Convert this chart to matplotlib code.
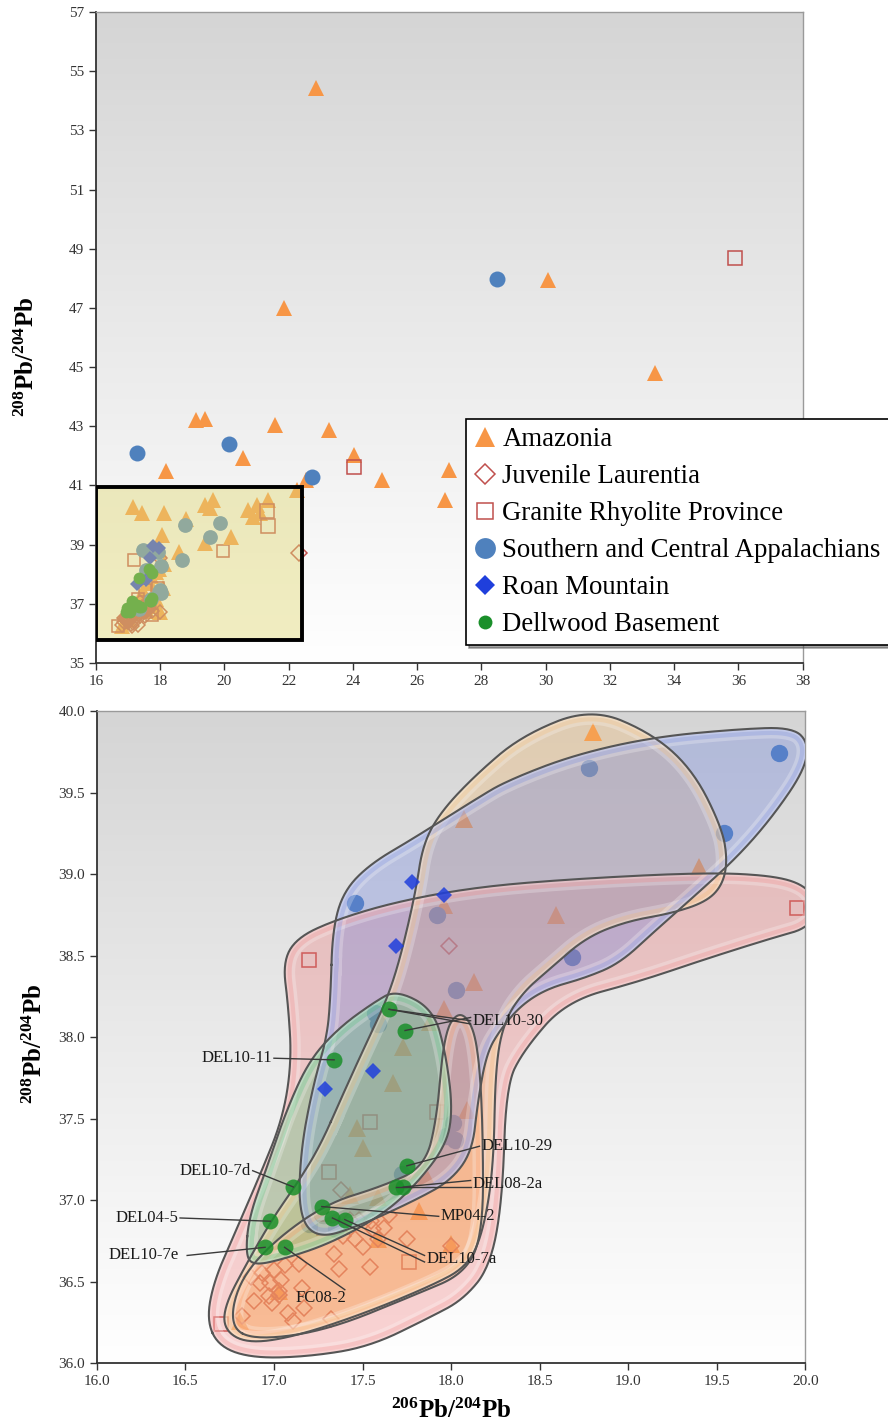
"""Pb isotope plot: full range (top) and close-up with sample fields (bottom)."""
import numpy as np
import matplotlib
matplotlib.use('Agg')
from matplotlib import pyplot as plt
from matplotlib.colors import LinearSegmentedColormap
from matplotlib.lines import Line2D
from matplotlib.patches import Polygon, Rectangle

plt.rcParams['font.family'] = ['Liberation Serif', 'DejaVu Serif']
plt.rcParams['mathtext.fontset'] = 'custom'
plt.rcParams['mathtext.rm'] = 'Liberation Serif:bold'

# --- sample data (206Pb/204Pb, 208Pb/204Pb) ---------------------------------
amaz_x = [18.80, 18.07, 19.40, 18.59, 17.96, 18.13, 17.96, 17.88, 17.73, 17.67,
          18.09, 17.47, 17.50, 17.86, 17.43, 17.59, 17.82, 18.00, 17.59, 17.03,
          16.81]
amaz_y = [39.87, 39.34, 39.04, 38.75, 38.81, 38.34, 38.17, 38.09, 37.94, 37.72,
          37.55, 37.44, 37.32, 37.15, 37.03, 37.02, 36.93, 36.73, 36.76, 36.44,
          36.26]
# Amazonia points outside the close-up window
amaz_top_x = [17.16, 17.42, 18.12, 19.39, 19.65, 19.55, 20.22, 20.74, 21.00,
              21.36, 20.90, 21.10, 22.25, 22.54, 22.85, 21.85, 30.07, 33.40,
              19.13, 19.39, 21.57, 23.25, 20.58, 18.18, 24.03, 24.92, 27.00,
              26.85]
amaz_top_y = [40.28, 40.06, 40.06, 40.34, 40.50, 40.23, 39.27, 40.17, 40.34,
              40.50, 39.94, 40.06, 40.85, 41.18, 54.43, 47.00, 47.94, 44.80,
              43.20, 43.25, 43.04, 42.87, 41.93, 41.50, 42.03, 41.18, 41.52,
              40.50]

jl_x = [17.99, 17.38, 17.43, 17.48, 17.55, 17.65, 17.39, 17.46, 17.50, 17.56,
        17.62, 17.75, 18.00, 17.37, 17.54, 17.34, 16.87, 16.93, 17.00, 17.06,
        17.14, 16.92, 16.98, 17.04, 17.16, 16.89, 16.97, 17.03, 16.99, 17.08,
        17.11, 17.17, 17.32, 16.82, 17.59, 17.03]
jl_y = [38.56, 37.06, 36.88, 36.88, 36.87, 36.91, 36.78, 36.76, 36.71, 36.82,
        36.83, 36.76, 36.72, 36.58, 36.59, 36.67, 36.53, 36.55, 36.57, 36.60,
        36.61, 36.49, 36.49, 36.51, 36.46, 36.38, 36.41, 36.42, 36.37, 36.31,
        36.26, 36.34, 36.27, 36.29, 36.76, 36.44]
jl_top_x = [22.33]
jl_top_y = [38.73]

grp_x = [17.20, 19.95, 17.92, 17.54, 17.31, 17.28, 17.76, 16.70]
grp_y = [38.47, 38.79, 37.54, 37.48, 37.17, 36.83, 36.62, 36.24]
grp_top_x = [35.90, 24.04, 21.31, 21.36]
grp_top_y = [48.67, 41.63, 40.12, 39.64]

sca_x = [17.46, 17.92, 18.03, 18.78, 19.85, 19.54, 18.68, 17.57, 17.59, 18.01,
         17.97, 18.02, 17.72, 17.20, 17.35]
sca_y = [38.82, 38.75, 38.29, 39.65, 39.74, 39.25, 38.49, 38.15, 38.08, 37.47,
         37.39, 37.37, 37.16, 36.85, 36.82]
sca_top_x = [17.29, 20.14, 22.73, 28.49]
sca_top_y = [42.08, 42.40, 41.29, 47.97]

roan_x = [17.78, 17.96, 17.69, 17.56, 17.29]
roan_y = [38.95, 38.87, 38.56, 37.79, 37.68]

dell_x = [17.65, 17.74, 17.34, 17.11, 16.98, 16.95, 17.06, 17.27, 17.33, 17.40,
          17.75, 17.69, 17.73]
dell_y = [38.17, 38.04, 37.86, 37.08, 36.87, 36.71, 36.71, 36.96, 36.89, 36.88,
          37.21, 37.08, 37.08]

# --- field outlines (close-up) ----------------------------------------------
grp_field_x = [16.62, 16.69, 16.88, 17.20, 17.54, 17.88, 18.07, 18.22, 18.29,
               18.31, 18.41, 18.65, 19.06, 19.44, 19.82, 20.02, 20.07, 20.00,
               19.82, 19.44, 18.69, 18.14, 17.69, 17.35, 17.13, 17.05, 17.08,
               17.10, 17.05, 16.92, 16.78, 16.66]
grp_field_y = [36.26, 36.10, 36.03, 36.04, 36.10, 36.28, 36.39, 36.59, 37.00,
               37.70, 37.92, 38.22, 38.34, 38.48, 38.61, 38.67, 38.81, 38.93,
               38.99, 39.01, 38.97, 38.92, 38.83, 38.72, 38.61, 38.46, 38.20,
               37.85, 37.50, 37.15, 36.80, 36.50]

jl_field_x = [16.75, 16.90, 17.30, 17.80, 18.08, 18.18, 18.18, 18.16, 18.12,
              18.04, 17.96, 17.92, 17.85, 17.60, 17.30, 17.00, 16.80]
jl_field_y = [36.22, 36.14, 36.20, 36.42, 36.55, 36.80, 37.40, 37.85, 38.08,
              38.16, 38.02, 37.50, 37.20, 37.08, 36.98, 36.75, 36.50]

amaz_field_x = [17.26, 17.39, 17.52, 17.63, 17.71, 17.80, 17.84, 17.94, 18.14,
                18.40, 18.79, 19.14, 19.37, 19.53, 19.56, 19.53, 19.44, 19.25,
                18.99, 18.76, 18.56, 18.41, 18.30, 18.25, 18.24, 18.18, 18.09,
                17.88, 17.50, 17.11, 16.85, 16.72, 16.72, 16.85, 17.00, 17.13]
amaz_field_y = [37.33, 37.65, 37.96, 38.21, 38.47, 38.89, 39.18, 39.38, 39.61,
                39.85, 40.02, 39.86, 39.63, 39.28, 39.08, 38.93, 38.83, 38.76,
                38.71, 38.61, 38.42, 38.28, 38.10, 37.82, 37.20, 36.80, 36.59,
                36.47, 36.30, 36.16, 36.12, 36.20, 36.35, 36.62, 36.90, 37.10]

sca_field_x = [17.32, 17.33, 17.39, 17.54, 17.79, 18.14, 18.31, 18.69, 19.14,
               19.63, 19.93, 20.02, 19.99, 19.82, 19.63, 19.40, 19.15, 18.95,
               18.75, 18.55, 18.40, 18.28, 18.20, 18.15, 18.12, 18.00, 17.80,
               17.50, 17.25, 17.14, 17.15, 17.22, 17.30]
sca_field_y = [38.26, 38.65, 38.89, 39.06, 39.22, 39.46, 39.57, 39.73, 39.84,
               39.89, 39.90, 39.80, 39.63, 39.36, 39.12, 38.89, 38.65, 38.45,
               38.36, 38.30, 38.20, 38.05, 37.90, 37.60, 37.30, 37.12, 37.00,
               36.85, 36.76, 36.90, 37.30, 37.70, 38.00]

dell_field_x = [16.84, 16.86, 16.96, 17.07, 17.20, 17.37, 17.56, 17.69, 17.90,
                17.97, 18.01, 17.97, 17.79, 17.60, 17.31, 17.03, 16.88]
dell_field_y = [36.67, 36.90, 37.20, 37.55, 37.86, 38.06, 38.21, 38.29, 38.17,
                37.90, 37.55, 37.33, 37.08, 36.90, 36.73, 36.63, 36.60]

# --- sample labels (Dellwood points) ----------------------------------------
label_names = ['DEL10-30', 'DEL10-11', 'DEL10-7d', 'DEL04-5', 'DEL10-7e',
               'DEL10-29', 'DEL08-2a', 'MP04-2', 'DEL10-7a', 'FC08-2']
label_points = [[0, 0, 1], [2], [3], [4], [5], [10], [11, 12], [7], [8, 9], [6]]
label_x = [18.12, 16.99, 16.87, 16.46, 16.46, 18.17, 18.12, 17.94, 17.86, 17.41]
label_y = [38.10, 37.87, 37.18, 36.89, 36.66, 37.33, 37.10, 36.90, 36.64, 36.40]

C_AMAZ = '#f79646'
C_RED = '#c0504d'
C_SCA = '#4f81bd'
C_ROAN = '#1f3fdc'
C_DELL = '#1a8f2a'


def _smooth(xs, ys, n=4):
    """Chaikin corner cutting on a closed outline."""
    pts = np.column_stack([xs, ys]).astype(float)
    for _ in range(n):
        nxt = np.roll(pts, -1, axis=0)
        out = np.empty((2 * len(pts), 2))
        out[0::2] = 0.75 * pts + 0.25 * nxt
        out[1::2] = 0.25 * pts + 0.75 * nxt
        pts = out
    return pts


def _field(ax, xs, ys, color, alpha=0.32):
    pts = _smooth(xs, ys)
    patch = Polygon(pts, closed=True, fc=color, ec='none', alpha=alpha,
                    zorder=3)
    ax.add_patch(patch)
    ring = np.vstack([pts, pts[:1]])
    for lw, c, a in [(15, 'white', 0.25), (10, color, 0.25),
                     (4, 'white', 0.25)]:
        line, = ax.plot(ring[:, 0], ring[:, 1], color=c, lw=lw, alpha=a,
                        zorder=3.2, solid_joinstyle='round')
        line.set_clip_path(patch)
    ax.plot(ring[:, 0], ring[:, 1], color='#555555', lw=1.5, zorder=3.5)


def _background(ax, x0, x1, y0, y1):
    cmap = LinearSegmentedColormap.from_list('bg', ['#d5d5d5', '#ffffff'])
    ax.imshow(np.linspace(0, 1, 256).reshape(-1, 1), cmap=cmap,
              extent=(x0, x1, y0, y1), aspect='auto', zorder=0)
    ax.set_xlim(x0, x1)
    ax.set_ylim(y0, y1)


def _style(ax):
    for side in ['top', 'right']:
        ax.spines[side].set_color('#9a9a9a')
        ax.spines[side].set_linewidth(1.0)
    for side in ['left', 'bottom']:
        ax.spines[side].set_color('#333333')
        ax.spines[side].set_linewidth(1.3)
    ax.tick_params(direction='out', length=5, width=1, color='#333333',
                   labelcolor='#333333', labelsize=11, top=False, right=False)


def _markers(ax, big):
    s = 1.0 if big else 0.85
    # Roan and Dellwood sit above the shaded fields in the close-up
    front = 3.8 if big else 2.1
    ax.plot(amaz_x, amaz_y, '^', color=C_AMAZ, ms=13 * s, mew=0, zorder=2)
    ax.plot(jl_x, jl_y, 'D', mfc='none', mec=C_RED, ms=8.5 * s, mew=1.1,
            zorder=2)
    ax.plot(grp_x, grp_y, 's', mfc='none', mec=C_RED, ms=10 * s, mew=1.1,
            zorder=2)
    ax.plot(sca_x, sca_y, 'o', color=C_SCA, ms=12.5 * s, mew=0, zorder=2)
    ax.plot(roan_x, roan_y, 'D', color=C_ROAN, ms=8 * s, mew=0, zorder=front,
            alpha=0.85 if big else 1)
    ax.plot(dell_x, dell_y, 'o', color=C_DELL, ms=(11.5 if big else 8.5),
            mew=0, zorder=front, alpha=0.85 if big else 1)


fig = plt.figure(figsize=(8.88, 14.24), dpi=100)
ylabel = r'$\mathrm{^{208}Pb/^{204}Pb}$'

# --- top panel ----------------------------------------------------------------
ax1 = fig.add_axes([0.108, 0.5344, 0.796, 0.4572])
_background(ax1, 16, 38, 35, 57)
_markers(ax1, big=False)
ax1.plot(amaz_top_x, amaz_top_y, '^', color=C_AMAZ, ms=12, mew=0, zorder=2)
ax1.plot(jl_top_x, jl_top_y, 'D', mfc='none', mec=C_RED, ms=8, mew=1.1,
         zorder=2)
ax1.plot(grp_top_x, grp_top_y, 's', mfc='none', mec=C_RED, ms=9.5, mew=1.1,
         zorder=2)
ax1.plot(sca_top_x, sca_top_y, 'o', color=C_SCA, ms=11.5, mew=0, zorder=2)
ax1.add_patch(Rectangle((16, 35.78), 6.4, 5.17, fc='#e2da78', ec='none',
                        alpha=0.45, zorder=2.5))
ax1.add_patch(Rectangle((16, 35.78), 6.4, 5.17, fill=False, ec='black',
                        lw=2.8, zorder=2.6))
ax1.set_xticks(np.arange(16, 39, 2))
ax1.set_yticks(np.arange(35, 58, 2))
_style(ax1)
ax1.set_ylabel(ylabel, fontsize=18)
ax1.yaxis.set_label_coords(-0.081, 0.47)

handles = [
    Line2D([], [], ls='none', marker='^', color=C_AMAZ, ms=14, mew=0),
    Line2D([], [], ls='none', marker='D', mfc='none', mec=C_RED, ms=10,
           mew=1.1),
    Line2D([], [], ls='none', marker='s', mfc='none', mec=C_RED, ms=12,
           mew=1.1),
    Line2D([], [], ls='none', marker='o', color=C_SCA, ms=15, mew=0),
    Line2D([], [], ls='none', marker='D', color=C_ROAN, ms=10, mew=0),
    Line2D([], [], ls='none', marker='o', color=C_DELL, ms=10, mew=0),
]
names = ['Amazonia', 'Juvenile Laurentia', 'Granite Rhyolite Province',
         'Southern and Central Appalachians', 'Roan Mountain',
         'Dellwood Basement']
leg = fig.legend(handles, names, loc='upper left',
                 bbox_to_anchor=(0.525, 0.7058), fontsize=19.3,
                 handlelength=0.8, handletextpad=0.25, borderpad=0.3,
                 labelspacing=0.45, borderaxespad=0, fancybox=False,
                 shadow=True, framealpha=1)
leg.get_frame().set_edgecolor('black')
leg.get_frame().set_linewidth(1.2)

# --- bottom panel -------------------------------------------------------------
ax2 = fig.add_axes([0.109, 0.0428, 0.798, 0.4579])
_background(ax2, 16, 20, 36, 40)
_markers(ax2, big=True)
_field(ax2, grp_field_x, grp_field_y, '#f07878')
_field(ax2, jl_field_x, jl_field_y, '#ff9050', alpha=0.3)
_field(ax2, amaz_field_x, amaz_field_y, '#f5b86a')
_field(ax2, sca_field_x, sca_field_y, '#6a80e0')
_field(ax2, dell_field_x, dell_field_y, '#40c070', alpha=0.3)

for name, idx, tx, ty in zip(label_names, label_points, label_x, label_y):
    left = tx > 17.5
    offsets = np.linspace(-0.02, 0.02, len(idx)) if len(idx) > 1 else [0]
    for i, dy in zip(idx, offsets):
        if name == 'FC08-2':
            end = (tx - 0.01, ty + 0.05)
        elif left:
            end = (tx - 0.01, ty + dy)
        else:
            end = (tx + (0.05 if name == 'DEL10-7e' else 0.01), ty)
        ax2.plot([dell_x[i], end[0]], [dell_y[i], end[1]], color='#3a3a3a',
                 lw=1.0, zorder=6)
    ax2.text(tx, ty, name, ha='left' if left else 'right', va='center',
             fontsize=12, color='#1a1a1a', zorder=7)

ax2.set_xticks(np.arange(16, 20.01, 0.5))
ax2.set_yticks(np.arange(36, 40.01, 0.5))
ax2.xaxis.set_major_formatter('{x:.1f}')
ax2.yaxis.set_major_formatter('{x:.1f}')
_style(ax2)
ax2.set_ylabel(ylabel, fontsize=18)
ax2.yaxis.set_label_coords(-0.07, 0.49)
ax2.set_xlabel(r'$\mathrm{^{206}Pb/^{204}Pb}$', fontsize=18, labelpad=8)

fig.savefig('out.png', dpi=100)
